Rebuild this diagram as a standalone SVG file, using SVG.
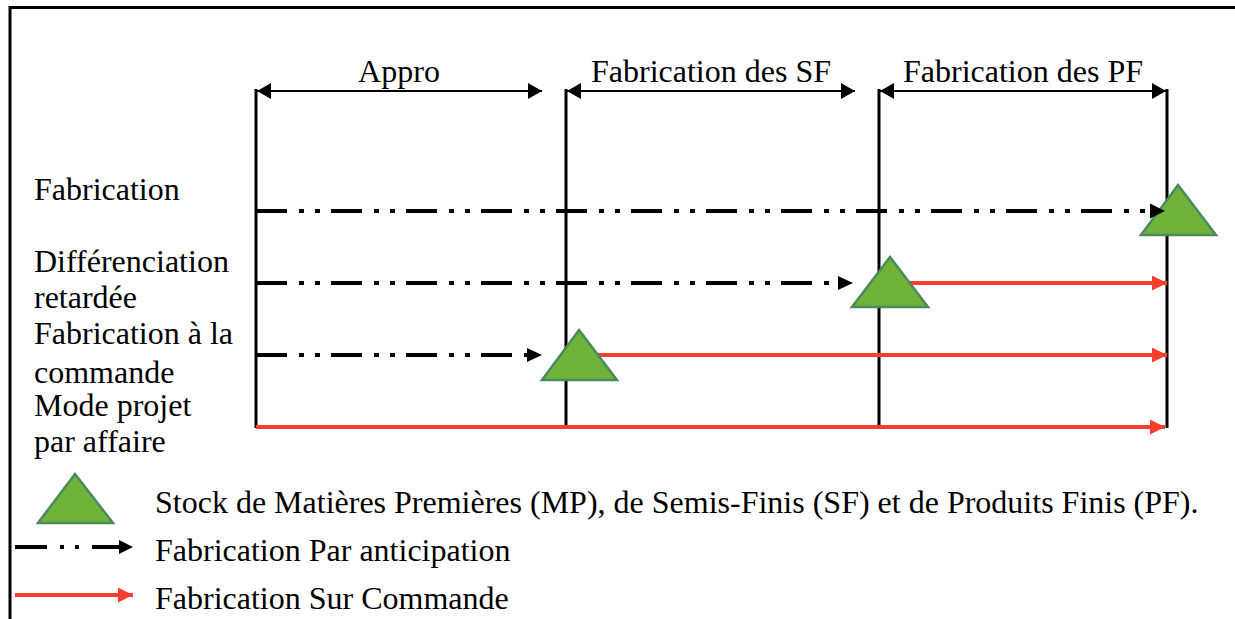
<svg xmlns="http://www.w3.org/2000/svg" width="1235" height="619" viewBox="0 0 1235 619">
<defs>
<style>
.t{font-family:'Liberation Serif','Times New Roman',Tinos,'DejaVu Serif',serif;font-size:32px;fill:#000}
.frame{stroke:#000;stroke-width:3;fill:none}
.vline{stroke:#000;stroke-width:3}
.dim{stroke:#000;stroke-width:2.2}
.ant{stroke:#000;stroke-width:4;stroke-dasharray:31 12 5 11 5 11;fill:none}
.cmd{stroke:#fb3d2e;stroke-width:4;fill:none}
.stock{fill:#70b33b;stroke:#4a8a5c;stroke-width:2.5}
</style>
<marker id="ahR" markerUnits="userSpaceOnUse" markerWidth="16" markerHeight="16" refX="15" refY="7.5" orient="auto"><path d="M0,0 L15,7.5 L0,15 Z" fill="#fb3d2e"/></marker>
<marker id="dimE" markerUnits="userSpaceOnUse" markerWidth="16" markerHeight="18" refX="14" refY="8" orient="auto"><path d="M0,0 L14,8 L0,16 Z" fill="#000"/></marker>
<marker id="dimS" markerUnits="userSpaceOnUse" markerWidth="16" markerHeight="18" refX="0" refY="8" orient="auto"><path d="M14,0 L0,8 L14,16 Z" fill="#000"/></marker>
</defs>
<rect width="1235" height="619" fill="#fff"/>
<path class="frame" d="M10,619 V7.5 H1235"/>

<g id="phases">
<line class="vline" x1="256" y1="89" x2="256" y2="428"/>
<line class="vline" x1="566" y1="89" x2="566" y2="428"/>
<line class="vline" x1="879" y1="89" x2="879" y2="428"/>
<line class="vline" x1="1167" y1="89" x2="1167" y2="428"/>
<text class="t" x="399" y="82" text-anchor="middle">Appro</text>
<text class="t" x="711" y="82" text-anchor="middle">Fabrication des SF</text>
<text class="t" x="1023" y="82" text-anchor="middle">Fabrication des PF</text>
</g>

<g id="row-labels">
<text class="t" x="34" y="200">Fabrication</text>
<text class="t" x="34" y="272">Différenciation</text>
<text class="t" x="34" y="308">retardée</text>
<text class="t" x="34" y="344">Fabrication à la</text>
<text class="t" x="34" y="383">commande</text>
<text class="t" x="34" y="416">Mode projet</text>
<text class="t" x="34" y="452">par affaire</text>
</g>

<g id="connectors">
<line class="dim" x1="257" y1="91" x2="542" y2="91" marker-start="url(#dimS)" marker-end="url(#dimE)"/>
<line class="dim" x1="567" y1="91" x2="855" y2="91" marker-start="url(#dimS)" marker-end="url(#dimE)"/>
<line class="dim" x1="880" y1="91" x2="1166" y2="91" marker-start="url(#dimS)" marker-end="url(#dimE)"/>
<line class="ant" x1="256" y1="211" x2="1151" y2="211"/>
<line class="ant" x1="256" y1="283" x2="839" y2="283"/>
<line class="ant" x1="256" y1="355" x2="527" y2="355"/>
<line class="cmd" x1="905" y1="283" x2="1167" y2="283" marker-end="url(#ahR)"/>
<line class="cmd" x1="595" y1="355" x2="1167" y2="355" marker-end="url(#ahR)"/>
<line class="cmd" x1="256" y1="427" x2="1165" y2="427" marker-end="url(#ahR)"/>
</g>

<g id="stock-pf"><polygon class="stock" points="1178,185 1216,235 1141,235"/></g>
<g id="stock-sf"><polygon class="stock" points="890,257 928,307 852,307"/></g>
<g id="stock-mp"><polygon class="stock" points="579,330 617,380 542,380"/></g>

<g id="arrowheads-over">
<path d="M1150,203.5 L1165,211 L1150,218.5 Z" fill="#000"/>
<path d="M838,276 L853,283 L838,290 Z" fill="#000"/>
<path d="M527,348 L542,355 L527,362 Z" fill="#000"/>
</g>

<g id="legend">
<polygon class="stock" points="75,474 113,523 38,523"/>
<text class="t" x="155" y="513">Stock de Matières Premières (MP), de Semis-Finis (SF) et de Produits Finis (PF).</text>
<line stroke="#000" stroke-width="4" stroke-dasharray="32 13 4 11 4 13" x1="15" y1="547" x2="120" y2="547"/>
<path d="M119,540 L133,547 L119,554 Z" fill="#000"/>
<text class="t" x="155" y="561">Fabrication Par anticipation</text>
<line class="cmd" x1="15" y1="595" x2="133" y2="595" marker-end="url(#ahR)"/>
<text class="t" x="155" y="609">Fabrication Sur Commande</text>
</g>
</svg>
